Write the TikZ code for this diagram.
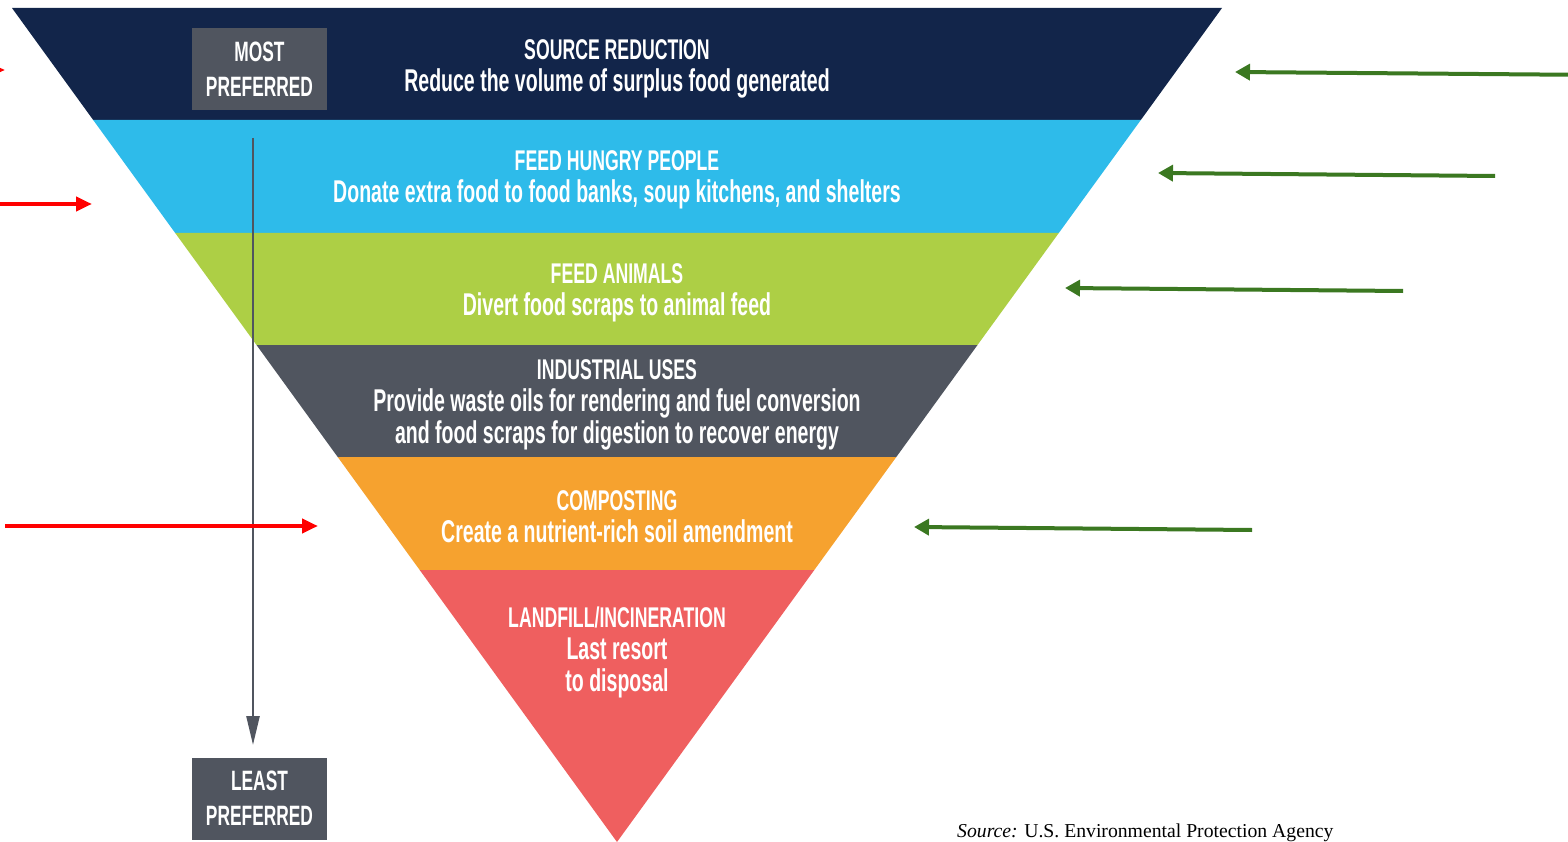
\documentclass[tikz,border=0pt]{standalone}
\usepackage{fontspec}
\setmainfont[FakeStretch=0.62]{Liberation Sans}
\newfontfamily\srcfont{Liberation Serif}
\usetikzlibrary{positioning,arrows.meta}

\definecolor{navy}{HTML}{12254A}
\definecolor{sky}{HTML}{2EBBEA}
\definecolor{lime}{HTML}{ADCF45}
\definecolor{slate}{HTML}{50555F}
\definecolor{amber}{HTML}{F6A22F}
\definecolor{salmon}{HTML}{EF5F5F}
\definecolor{leaf}{HTML}{3B7821}

\newcommand{\tiertitle}[1]{{\fontsize{28.5}{32}\selectfont #1}}

\begin{document}
\begin{tikzpicture}[
		x=1pt, y=-1pt
		,tier/.style={text=white, align=center, font=\bfseries\fontsize{31.5}{32}\selectfont}
		,pref/.style={fill=slate, text=white, align=center, minimum width=135pt, minimum height=82pt, inner sep=0pt, font=\bfseries\fontsize{28}{35}\selectfont}
		,redarrow/.style={red, line width=4pt, -{Triangle[width=14pt, length=16pt]}}
		,greenarrow/.style={leaf, line width=4pt, -{Triangle[width=16pt, length=15pt]}}
		,rankarrow/.style={slate, line width=2.5pt, -{Triangle[width=13pt, length=29pt]}}
	]
		\useasboundingbox (0,0) rectangle (1568,842);
		\clip (0,0) rectangle (1568,842);

		\fill[navy] (12,8) -- (1222,8) -- (1140.8,120) -- (93.2,120) -- cycle;
		\fill[sky] (93.2,120) -- (1140.8,120) -- (1058.8,233) -- (175.2,233) -- cycle;
		\fill[lime] (175.2,233) -- (1058.8,233) -- (977.5,345) -- (256.5,345) -- cycle;
		\fill[slate] (256.5,345) -- (977.5,345) -- (896.3,457) -- (337.7,457) -- cycle;
		\fill[amber] (337.7,457) -- (896.3,457) -- (814.3,570) -- (419.7,570) -- cycle;
		\fill[salmon] (419.7,570) -- (814.3,570) -- (617,842) -- cycle;

		\node[tier] (reduce) at (617,68.5) {\tiertitle{SOURCE REDUCTION}\\Reduce the volume of surplus food generated};
		\node[tier] (people) at (617,180) {\tiertitle{FEED HUNGRY PEOPLE}\\Donate extra food to food banks, soup kitchens, and shelters};
		\node[tier] (animals) at (617,293) {\tiertitle{FEED ANIMALS}\\Divert food scraps to animal feed};
		\node[tier] (industry) at (617,405) {\tiertitle{INDUSTRIAL USES}\\Provide waste oils for rendering and fuel conversion\\and food scraps for digestion to recover energy};
		\node[tier] (compost) at (617,517) {\tiertitle{COMPOSTING}\\Create a nutrient-rich soil amendment};
		\node[tier] (landfill) at (617,652) {\tiertitle{LANDFILL/INCINERATION}\\Last resort\\to disposal};

		\node[pref] (most) at (259.5,69) {MOST\\PREFERRED};
		\node[pref] (least) at (259.5,798.5) {LEAST\\PREFERRED};
		\coordinate (rankA) at (253,138);
		\coordinate (rankB) at (253,745);
		\draw[rankarrow] (rankA) -- (rankB);

		\coordinate (r1a) at (-40,70);
		\coordinate (r1b) at (5,70);
		\coordinate (r2a) at (0,204);
		\coordinate (r2b) at (92,204);
		\coordinate (r3a) at (5,526);
		\coordinate (r3b) at (318,526);
		\draw[redarrow] (r1a) -- (r1b);
		\draw[redarrow] (r2a) -- (r2b);
		\draw[redarrow] (r3a) -- (r3b);

		\coordinate (g1a) at (1600,75);
		\coordinate (g1b) at (1235,72);
		\coordinate (g2a) at (1495,176);
		\coordinate (g2b) at (1158,173);
		\coordinate (g3a) at (1403,291);
		\coordinate (g3b) at (1065,288);
		\coordinate (g4a) at (1252,530);
		\coordinate (g4b) at (914,527);
		\draw[greenarrow] (g1a) -- (g1b);
		\draw[greenarrow] (g2a) -- (g2b);
		\draw[greenarrow] (g3a) -- (g3b);
		\draw[greenarrow] (g4a) -- (g4b);

		\node[anchor=base west, inner sep=0pt, font=\srcfont\fontsize{19.7}{20}\selectfont] (source) at (957,837) {\textit{Source:} U.S. Environmental Protection Agency};
	\end{tikzpicture}
\end{document}
